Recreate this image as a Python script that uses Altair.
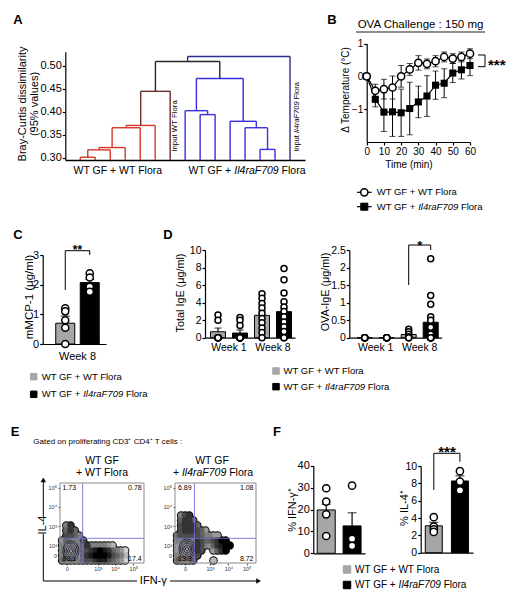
import altair as alt
import pandas as pd

W, H = 508, 583
OFF = 8
FONT = "Liberation Sans"
GRAY = "#a6a6a6"
ONE = pd.DataFrame({"k": [0]})

# ======================= DATA =======================
# A : dendrogram of Bray-Curtis dissimilarity (merge heights)
dend_leaf_count = 15
dend_base = 0.295
dend_merges = [
    ("L1", "L2", 0.301, "wt"),
    ("n1", "L3", 0.317, "wt"),
    ("n2", "L4", 0.322, "wt"),
    ("n3", "L5", 0.365, "wt"),
    ("n4", "L6", 0.370, "wt"),
    ("n5", "L7", 0.444, "wt_input"),
    ("L9", "L10", 0.3935, "il"),
    ("L8", "n7", 0.402, "il"),
    ("L13", "L14", 0.318, "il"),
    ("L12", "n9", 0.365, "il"),
    ("L11", "n10", 0.379, "il"),
    ("n8", "n11", 0.4717, "il"),
    ("n6", "n12", 0.5087, "root"),
    ("n13", "L15", 0.5196, "il_input"),
]
dend_groups = ["wt", "wt_input", "il", "root", "il_input"]
dend_colors = ["#d6372a", "#6b2c2c", "#3b2de0", "#262626", "#2d2d8f"]
a_ticks = [0.30, 0.35, 0.40, 0.45, 0.50]

# B : temperature change after OVA challenge
b_time = [0, 5, 10, 15, 20, 25, 30, 35, 40, 45, 50, 55, 60]
b_wt_mean = [0.0, -0.44, -0.39, -0.34, 0.0, 0.21, 0.41, 0.38, 0.46, 0.59, 0.54, 0.59, 0.69]
b_wt_sem = [0.0, 0.2, 0.3, 0.35, 0.33, 0.18, 0.22, 0.15, 0.17, 0.15, 0.15, 0.15, 0.15]
b_il_mean = [0.0, -0.7, -1.09, -1.08, -1.11, -0.98, -0.78, -0.6, -0.27, -0.21, 0.1, 0.2, 0.33]
b_il_sem = [0.0, 0.23, 0.59, 0.75, 0.72, 0.8, 0.48, 0.62, 0.43, 0.44, 0.29, 0.28, 0.31]
b_x_ticks = [0, 10, 20, 30, 40, 50, 60]
b_y_ticks = [-1, 0, 1]

groups = ["wt", "il"]

# C : mMCP-1
c_weeks = ["Week 8"]
c_mean = {"wt": [0.70], "il": [2.07]}
c_sem = {"wt": [0.24], "il": [0.11]}
c_points = {"wt": [[1.2, 1.1, 0.8, 0.55, 0.0]], "il": [[2.38, 2.24, 1.93, 1.76]]}
c_ticks = [0, 1, 2, 3]

# D : total IgE and OVA-IgE
d_weeks = ["Week 1", "Week 8"]
d_total_mean = {"wt": [0.68, 2.55], "il": [0.53, 2.97]}
d_total_sem = {"wt": [0.42, 0.5], "il": [0.35, 0.35]}
d_total_points = {
    "wt": [[2.6, 2.0, 0, 0, 0, 0, 0], [5.0, 4.5, 3.9, 3.4, 2.8, 2.2, 1.7, 1.1, 0.6, 0.0]],
    "il": [[2.3, 2.0, 1.4, 0, 0, 0, 0, 0, 0, 0], [7.9, 6.6, 5.1, 4.1, 3.5, 3.0, 2.4, 1.8, 1.25, 0.7, 0, 0]],
}
d_total_ticks = [0, 2, 4, 6, 8, 10]
d_ova_mean = {"wt": [0.0, 0.09], "il": [0.0, 0.44]}
d_ova_sem = {"wt": [0.0, 0.03], "il": [0.0, 0.14]}
d_ova_points = {
    "wt": [[0, 0, 0, 0, 0, 0], [0.24, 0.17, 0.1, 0.03, 0, 0]],
    "il": [[0, 0, 0, 0, 0, 0], [2.25, 1.2, 0.95, 0.6, 0.5, 0.3, 0.1, 0, 0, 0, 0, 0, 0]],
}
d_ova_ticks = [0, 0.5, 1, 1.5, 2, 2.5]

# E : flow cytometry density (0-9 per cell, '.' = empty)
flow_wt = [
    "....................",
    "....................",
    "....................",
    "....................",
    "....................",
    "....................",
    "....................",
    "....................",
    ".47.................",
    ".575................",
    ".6654...............",
    "354446..............",
    "4333457444432.......",
    "4333356789875431....",
    "4333357899986542....",
    "5444456678865431....",
]
flow_il = [
    "....................",
    "....................",
    "....................",
    "....................",
    "....................",
    "....................",
    ".467................",
    ".5775...............",
    ".67775..............",
    ".6777653............",
    "56666654433.........",
    "4444476556799.......",
    "33334764357899......",
    "3333476..3579.......",
    "433346..............",
    "54445....2..........",
]
flow_quad_wt = ["1.73", "0.78", "80.1", "17.4"]
flow_quad_il = ["6.89", "1.08", "83.3", "8.72"]
flow_gate_wt = (5.4, 11.06)
flow_gate_il = (4.8, 11.06)
flow_core_wt = (2.6, 13.6)
flow_core_il = (2.96, 13.2)
flow_ring_levels = [1, 2, 3, 4, 5]
flow_x_ticks_wt = [1.6, 9.0, 13.1, 17.45]
flow_x_ticks_il = [2.47, 8.64, 13.2, 17.7]
flow_x_labels = ["0", "10³", "10⁴", "10⁵"]
flow_y_ticks = [0.94, 4.74, 8.6, 12.4, 14.54]
flow_y_labels = ["10⁵", "10⁴", "10³", "10²", "0"]

# F : % IFN-g+ and % IL-4+
f_weeks = ["all"]
f_ifn_mean = {"wt": [19.8], "il": [12.5]}
f_ifn_sem = {"wt": [2.6], "il": [6.0]}
f_ifn_points = {"wt": [[29.7, 23.6, 17.8, 7.9]], "il": [[30.9, 6.6, 3.4]]}
f_ifn_ticks = [0, 10, 20, 30, 40]
f_il4_mean = {"wt": [3.1], "il": [8.27]}
f_il4_sem = {"wt": [0.4], "il": [0.6]}
f_il4_points = {"wt": [[4.1, 3.0, 2.7, 2.4]], "il": [[9.4, 8.2, 7.2]]}
f_il4_ticks = [0, 2, 4, 6, 8, 10]

LBL_WT = [("WT GF + WT Flora", False)]
LBL_IL = [("WT GF + ", False), ("Il4raF709", True), (" Flora", False)]


# ======================= HELPERS =======================
def X(v):
    return round(v - OFF, 2)


def Y(v):
    return round(v - OFF, 2)


def txt(s, x, y, fs=10, align="center", baseline="middle", angle=0, italic=False, bold=False, color="black"):
    kw = dict(text=s, fontSize=fs, align=align, baseline=baseline, font=FONT, color=color)
    if angle:
        kw["angle"] = angle
    if italic:
        kw["fontStyle"] = "italic"
    if bold:
        kw["fontWeight"] = "bold"
    return alt.Chart(ONE).mark_text(**kw).encode(x=alt.value(X(x)), y=alt.value(Y(y)))


def seg(x1, y1, x2, y2, color="black", w=1.0):
    return alt.Chart(ONE).mark_rule(color=color, strokeWidth=w).encode(
        x=alt.value(X(x1)), y=alt.value(Y(y1)), x2=alt.value(X(x2)), y2=alt.value(Y(y2)))


def sym(x, y, shape, size, fill, stroke="black", sw=1.0):
    return alt.Chart(ONE).mark_point(shape=shape, size=size, filled=True, fill=fill, stroke=stroke,
                                     strokeWidth=sw, opacity=1).encode(x=alt.value(X(x)), y=alt.value(Y(y)))


AW = {' ': 0.278, '+': 0.584, 'W': 0.944, 'T': 0.611, 'G': 0.778, 'F': 0.611, 'l': 0.222, 'o': 0.556,
      'r': 0.333, 'a': 0.556, 'I': 0.278, '4': 0.556, '7': 0.556, '0': 0.556, '9': 0.556, 'i': 0.222,
      'n': 0.556, 'p': 0.556, 'u': 0.556, 't': 0.278}


def tw(s, fs):
    return sum(AW.get(ch, 0.556) for ch in s) * fs


def rich(parts, x, y, fs, anchor="left", vertical=False):
    total = sum(tw(p, fs) for p, _ in parts)
    pos = 0.0 if anchor == "left" else -total / 2
    out = []
    for p, it in parts:
        lead = len(p) - len(p.lstrip(" "))
        core = p.strip(" ")
        trail = len(p) - lead - len(core)
        pos += tw(" " * lead, fs)
        if core:
            if vertical:
                out.append(txt(core, x, y - pos, fs, align="left", angle=270, italic=it))
            else:
                out.append(txt(core, x + pos, y, fs, align="left", italic=it))
        pos += tw(core, fs) + tw(" " * trail, fs)
    return out


def yaxis(x_ref, values, fs, fmt=""):
    kw = dict(orient="left", offset=-X(x_ref), values=values, title=None, labelFontSize=fs,
              tickSize=3, labelPadding=1, grid=False, labelFlush=False)
    if fmt:
        kw["format"] = fmt
    return alt.Axis(**kw)


def bar_panel(weeks, means, sems, points, xr, po, al, yaxis_x, ybase, ytop, ydom, yvals,
              bar_w, cap_w, pt_size, lab_size, show_labels, lab_pad, yfmt=""):
    rows, prow = [], []
    for g in groups:
        for i, w in enumerate(weeks):
            rows.append(dict(week=w, grp=g, m=means[g][i], hi=means[g][i] + sems[g][i]))
            for v in points[g][i]:
                prow.append(dict(week=w, grp=g, v=v))
    bdf, pdf = pd.DataFrame(rows), pd.DataFrame(prow)
    xax = alt.Axis(orient="bottom", offset=-(H - Y(ybase)), title=None, ticks=False, tickSize=0,
                   labels=show_labels, labelAngle=0, labelFontSize=lab_size, labelPadding=lab_pad)
    xsc = alt.Scale(domain=weeks, range=[X(xr[0]), X(xr[1])], paddingInner=0, paddingOuter=po, align=al)
    xenc = alt.X("week:N", scale=xsc, axis=xax)
    xo = alt.XOffset("grp:N", scale=alt.Scale(domain=groups, paddingInner=0, paddingOuter=0))
    ysc = alt.Scale(domain=ydom, range=[Y(ybase), Y(ytop)], nice=False, zero=False)
    yax = yaxis(yaxis_x, yvals, lab_size, yfmt)

    def yenc(f):
        return alt.Y(f, scale=ysc, axis=yax)

    col = alt.Color("grp:N", scale=alt.Scale(domain=groups, range=[GRAY, "black"]), legend=None)
    bars = alt.Chart(bdf).mark_bar(width=bar_w, stroke="black", strokeWidth=1).encode(
        x=xenc, xOffset=xo, y=yenc("m:Q"), color=col)
    err = alt.Chart(bdf).mark_rule(color="black", strokeWidth=1.2).encode(
        x=xenc, xOffset=xo, y=yenc("m:Q"), y2="hi:Q")
    cap = alt.Chart(bdf).mark_tick(orient="horizontal", size=cap_w, thickness=1.2, color="black").encode(
        x=xenc, xOffset=xo, y=yenc("hi:Q"))
    pts = alt.Chart(pdf).mark_point(shape="circle", filled=True, fill="white", stroke="black",
                                    strokeWidth=1.5, size=pt_size, opacity=1).encode(
        x=xenc, xOffset=xo, y=yenc("v:Q"))
    return alt.layer(bars, err, cap, pts)


def lab_expr(vals, labs):
    expr = "'%s'" % labs[-1]
    for i in range(len(vals) - 2, -1, -1):
        mid = (vals[i] + vals[i + 1]) / 2
        expr = "datum.value < %g ? '%s' : (%s)" % (mid, labs[i], expr)
    return expr


RING = "M0,-1A0.8,1 0 1,1 0,1A0.8,1 0 1,1 0,-1Z"


def flow_panel(grid, left, right, top, bottom, gate, core, xticks):
    nrow, ncol = len(grid), len(grid[0])
    cells = [dict(cx=c + 0.5, cy=r + 0.5, v=int(ch))
             for r, row in enumerate(grid) for c, ch in enumerate(row) if ch != "."]
    cdf = pd.DataFrame(cells)
    xsc = alt.Scale(domain=[0, ncol], range=[X(left), X(right)], nice=False, zero=False)
    ysc = alt.Scale(domain=[0, nrow], range=[Y(top), Y(bottom)], nice=False, zero=False)
    xax = alt.Axis(orient="bottom", offset=-(H - Y(bottom)), values=xticks,
                   labelExpr=lab_expr(xticks, flow_x_labels), domain=False, tickSize=2,
                   labelFontSize=5.5, labelPadding=1.5, title=None, tickColor="#666", labelColor="#333",
                   labelFlush=False)
    yax = alt.Axis(orient="left", offset=-X(left), values=flow_y_ticks,
                   labelExpr=lab_expr(flow_y_ticks, flow_y_labels), domain=False, tickSize=2,
                   labelFontSize=5.5, labelPadding=1.5, title=None, tickColor="#666", labelColor="#333",
                   labelFlush=False)

    def fx(f):
        return alt.X(f, scale=xsc, axis=xax)

    def fy(f):
        return alt.Y(f, scale=ysc, axis=yax)

    gscale = alt.Scale(domain=[1, 9], range=["#d4d4d4", "#000000"])
    outline = alt.Chart(cdf).mark_circle(color="black", size=72, opacity=1).encode(x=fx("cx:Q"), y=fy("cy:Q"))
    fill = alt.Chart(cdf).mark_circle(size=44, opacity=1).encode(
        x=fx("cx:Q"), y=fy("cy:Q"),
        color=alt.Color("v:Q", scale=gscale, legend=None), order=alt.Order("v:Q"))
    gdf = pd.DataFrame({"gx": [gate[0]], "gy": [gate[1]], "c0": [0], "c1": [ncol], "r0": [0], "r1": [nrow]})
    gv = alt.Chart(gdf).mark_rule(color="#6f6fd6", strokeWidth=0.9).encode(x=fx("gx:Q"), y=fy("r0:Q"), y2="r1:Q")
    gh = alt.Chart(gdf).mark_rule(color="#6f6fd6", strokeWidth=0.9).encode(y=fy("gy:Q"), x=fx("c0:Q"), x2="c1:Q")
    frame = alt.Chart(gdf).mark_rect(fill="white", fillOpacity=0, stroke="#8a8a8a", strokeWidth=1).encode(
        x=fx("c0:Q"), x2="c1:Q", y=fy("r0:Q"), y2="r1:Q")
    rdf = pd.DataFrame({"cx": [core[0]] * len(flow_ring_levels), "cy": [core[1]] * len(flow_ring_levels),
                        "lvl": flow_ring_levels})
    rings = alt.Chart(rdf).mark_point(shape=RING, filled=False, stroke="#15152e", strokeWidth=0.9, opacity=1).encode(
        x=fx("cx:Q"), y=fy("cy:Q"),
        size=alt.Size("lvl:Q", scale=alt.Scale(type="pow", exponent=2, domain=[0, 5], range=[0, 400]), legend=None))
    return alt.layer(outline, fill, rings, gv, gh, frame)


layers = []

# ======================= PANEL A =======================
pos = {"L%d" % i: float(i) for i in range(1, dend_leaf_count + 1)}
hgt = {k: dend_base for k in pos}
segs = []
for idx, (a, b, h, g) in enumerate(dend_merges):
    xa, xb = pos[a], pos[b]
    segs.append(dict(x=xa, x2=xb, y=h, y2=h, g=g))
    segs.append(dict(x=xa, x2=xa, y=hgt[a], y2=h, g=g))
    segs.append(dict(x=xb, x2=xb, y=hgt[b], y2=h, g=g))
    name = "n%d" % (idx + 1)
    pos[name] = (xa + xb) / 2
    hgt[name] = h
dend_df = pd.DataFrame(segs)
a_x = alt.X("x:Q", scale=alt.Scale(domain=[0, 16], range=[X(65.3), X(305)], nice=False, zero=False),
            axis=alt.Axis(orient="bottom", offset=-(H - Y(160)), ticks=False, labels=False, title=None,
                          domainWidth=1.5))
a_y = alt.Y("y:Q", scale=alt.Scale(domain=[0.295, 0.530], range=[Y(160), Y(51.7)], nice=False, zero=False),
            axis=yaxis(65.3, a_ticks, 11, ".2f"))
layers.append(alt.Chart(dend_df).mark_rule(strokeWidth=1.4).encode(
    x=a_x, x2="x2:Q", y=a_y, y2="y2:Q",
    color=alt.Color("g:N", scale=alt.Scale(domain=dend_groups, range=dend_colors), legend=None)))
layers.append(txt("A", 18, 20, 13, bold=True))
layers.append(txt("Bray-Curtis dissimilarity", 22.5, 104, 11, angle=270))
layers.append(txt("(95% values)", 35, 104, 11, angle=270))
layers += rich(LBL_WT, 118, 171, 10.5, anchor="center")
layers += rich(LBL_IL, 247, 171, 10.5, anchor="center")
layers.append(txt("Input WT Flora", 175, 126, 7.8, angle=270))
layers += rich([("Input ", False), ("Il4raF709", True), (" Flora", False)], 296.5, 117, 7.5,
               anchor="center", vertical=True)

# ======================= PANEL B =======================
brows = []
for g, mm, ss in (("wt", b_wt_mean, b_wt_sem), ("il", b_il_mean, b_il_sem)):
    for t, m, s in zip(b_time, mm, ss):
        brows.append(dict(t=t, grp=g, m=m, lo=m - s, hi=m + s))
b_df = pd.DataFrame(brows)
b_xsc = alt.Scale(domain=[0, 60], range=[X(366.7), X(470)], nice=False, zero=False)
b_xax = alt.Axis(orient="bottom", offset=-(H - Y(142)), values=b_x_ticks, title=None, labelFontSize=10,
                 tickSize=3, labelPadding=1.5, labelFlush=False, labelOverlap=False)
b_ysc = alt.Scale(domain=[-2, 1], range=[Y(142), Y(43.5)], nice=False, zero=False)
b_yax = yaxis(366.7, b_y_ticks, 10)


def bx():
    return alt.X("t:Q", scale=b_xsc, axis=b_xax)


def by(f):
    return alt.Y(f, scale=b_ysc, axis=b_yax)


b_err = alt.Chart(b_df).mark_rule(color="black", strokeWidth=1).encode(x=bx(), y=by("lo:Q"), y2="hi:Q")
b_cap_lo = alt.Chart(b_df).mark_tick(orient="horizontal", size=6, thickness=1, color="black").encode(x=bx(), y=by("lo:Q"))
b_cap_hi = alt.Chart(b_df).mark_tick(orient="horizontal", size=6, thickness=1, color="black").encode(x=bx(), y=by("hi:Q"))
b_line = alt.Chart(b_df).mark_line(color="black", strokeWidth=1.2).encode(x=bx(), y=by("m:Q"), detail="grp:N")
b_sq = alt.Chart(b_df).transform_filter(alt.datum.grp == "il").mark_point(
    shape="square", filled=True, color="black", size=50, opacity=1).encode(x=bx(), y=by("m:Q"))
b_ci = alt.Chart(b_df).transform_filter(alt.datum.grp == "wt").mark_point(
    shape="circle", filled=True, fill="white", stroke="black", strokeWidth=1.5, size=52, opacity=1).encode(x=bx(), y=by("m:Q"))
layers.append(alt.layer(b_err, b_cap_lo, b_cap_hi, b_line, b_sq, b_ci))
layers.append(txt("B", 332, 20, 13, bold=True))
layers.append(txt("OVA Challenge : 150 mg", 420.5, 25, 11.5))
layers.append(seg(356, 32, 485, 32, w=0.9))
layers.append(txt("Δ Temperature (°C)", 346, 90, 10, angle=270))
layers.append(txt("Time (min)", 409, 165, 10))
layers.append(seg(485, 55, 485, 66.7, w=1))
layers.append(seg(478, 55, 485, 55, w=1))
layers.append(seg(478, 66.7, 485, 66.7, w=1))
layers.append(txt("***", 488, 70.4, 15, align="left", baseline="alphabetic", bold=True))
# legend B
layers.append(seg(357, 192.3, 371.7, 192.3, w=1.2))
layers.append(sym(364.3, 192.3, "circle", 52, "white", sw=1.5))
layers += rich(LBL_WT, 376.7, 192.3, 9.5)
layers.append(seg(357, 206.7, 371.7, 206.7, w=1.2))
layers.append(sym(364.3, 206.7, "square", 50, "black"))
layers += rich(LBL_IL, 376.7, 206.7, 9.5)

# ======================= PANEL C =======================
layers.append(bar_panel(c_weeks, c_mean, c_sem, c_points, (42.7, 106), 0.146, 0.72, 42.7, 344, 255,
                        [0, 3], c_ticks, 19, 9, 50, 11, True, 6))
layers.append(txt("C", 18, 235, 13, bold=True))
layers.append(txt("mMCP-1 (μg/ml)", 29.5, 297, 11.5, angle=270))
layers.append(seg(65.25, 250.7, 89.75, 250.7))
layers.append(seg(65.25, 250.7, 65.25, 290))
layers.append(seg(89.75, 250.7, 89.75, 255))
layers.append(txt("**", 77.5, 253.7, 12, baseline="alphabetic", bold=True))
layers.append(sym(33.7, 376.7, "square", 42, GRAY, stroke=GRAY))
layers += rich(LBL_WT, 41.7, 376.7, 9.5)
layers.append(sym(33.7, 394.3, "square", 42, "black"))
layers += rich(LBL_IL, 41.7, 394.3, 9.5)

# ======================= PANEL D =======================
layers.append(bar_panel(d_weeks, d_total_mean, d_total_sem, d_total_points, (205, 295), 0.0227, 1, 205,
                        337.7, 250, [0, 10], d_total_ticks, 15, 7, 36, 10.5, True, 4.5))
layers.append(bar_panel(d_weeks, d_ova_mean, d_ova_sem, d_ova_points, (349.3, 441.7), 0.05, 1, 349.3,
                        337.7, 250, [0, 2.5], d_ova_ticks, 15, 7, 36, 10.5, True, 4.5, yfmt="~g"))
layers.append(txt("D", 168, 235, 13, bold=True))
layers.append(txt("Total IgE (μg/ml)", 181, 293, 10.8, angle=270))
layers.append(txt("OVA-IgE (μg/ml)", 326, 292, 10.8, angle=270))
layers.append(seg(408.7, 245, 430.7, 245))
layers.append(seg(408.7, 245, 408.7, 285))
layers.append(seg(430.7, 245, 430.7, 250))
layers.append(txt("*", 419.7, 250, 13, baseline="alphabetic", bold=True))
layers.append(sym(276, 371, "square", 42, GRAY, stroke=GRAY))
layers += rich(LBL_WT, 283.5, 371, 9.5)
layers.append(sym(276, 386.7, "square", 42, "black"))
layers += rich(LBL_IL, 283.5, 386.7, 9.5)

# ======================= PANEL E =======================
layers.append(flow_panel(flow_wt, 60, 144, 483, 563, flow_gate_wt, flow_core_wt, flow_x_ticks_wt))
layers.append(flow_panel(flow_il, 175, 256, 483, 563, flow_gate_il, flow_core_il, flow_x_ticks_il))
layers.append(txt("E", 15, 431.7, 13, bold=True))
layers.append(txt("Gated on proliferating CD3⁺ CD4⁺ T cells :", 33.3, 441.7, 8, align="left"))
layers.append(txt("WT GF", 102, 461, 10.5))
layers.append(txt("+ WT Flora", 102, 473.3, 10.5))
layers.append(txt("WT GF", 212, 461, 10.5))
layers += rich([("+ ", False), ("Il4raF709", True), (" Flora", False)], 213, 473.3, 10.5, anchor="center")
for (lx, rx), q in (((62.5, 141.7), flow_quad_wt), ((178, 253.5), flow_quad_il)):
    layers.append(txt(q[0], lx, 487.7, 7, align="left"))
    layers.append(txt(q[1], rx, 487.7, 7, align="right"))
    layers.append(txt(q[2], lx, 558.5, 7, align="left"))
    layers.append(txt(q[3], rx, 558.5, 7, align="right"))
layers.append(seg(43.3, 481, 43.3, 516, w=1))
layers.append(seg(43.3, 534, 43.3, 581, w=1))
layers.append(sym(43.3, 480, "triangle-up", 22, "black", sw=0.5))
layers.append(txt("IL-4", 42.5, 525, 11, angle=270))
layers.append(seg(43.3, 581, 137, 581, w=1))
layers.append(seg(170, 581, 257, 581, w=1))
layers.append(sym(258.5, 581, "triangle-right", 22, "black", sw=0.5))
layers.append(txt("IFN-γ", 153.3, 581, 11))

# ======================= PANEL F =======================
layers.append(bar_panel(f_weeks, f_ifn_mean, f_ifn_sem, f_ifn_points, (313.3, 365), 0, 0.5, 313.3,
                        553.3, 465.7, [0, 40], f_ifn_ticks, 18, 9, 52, 11, False, 2))
layers.append(bar_panel(f_weeks, f_il4_mean, f_il4_sem, f_il4_points, (420.7, 473), 0, 0.5, 420.7,
                        552.7, 466, [0, 10], f_il4_ticks, 17, 9, 52, 10.5, False, 2))
layers.append(txt("F", 277, 431.7, 13, bold=True))
layers.append(txt("% IFN-γ⁺", 293.3, 510, 11, angle=270))
layers.append(txt("% IL-4⁺", 405, 508, 11, angle=270))
layers.append(seg(433.8, 453.3, 459.9, 453.3))
layers.append(seg(433.8, 453.3, 433.8, 490))
layers.append(seg(459.9, 453.3, 459.9, 461.7))
layers.append(txt("***", 447, 456.7, 15, baseline="alphabetic", bold=True))
layers.append(sym(347, 569.5, "square", 56, GRAY, stroke=GRAY))
layers += rich(LBL_WT, 355, 569.5, 10)
layers.append(sym(347, 585, "square", 56, "black"))
layers += rich(LBL_IL, 355, 585, 10)

chart = (
    alt.layer(*layers)
    .resolve_scale(x="independent", y="independent", color="independent", stroke="independent",
                   size="independent", xOffset="independent")
    .properties(width=W, height=H, autosize=alt.AutoSizeParams(type="none"), padding=0, background="white")
    .configure_view(stroke="transparent")
    .configure_axis(labelFont=FONT, titleFont=FONT, domainColor="black", tickColor="black",
                    labelColor="black", grid=False, domainWidth=1.2, tickWidth=1.2)
    .configure_text(font=FONT)
)
chart.save("out.html", embed_options={"renderer": "svg", "actions": False})
